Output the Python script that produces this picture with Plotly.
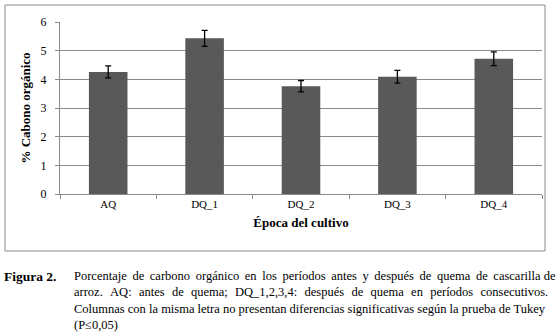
import plotly.graph_objects as go

categories = ["AQ", "DQ_1", "DQ_2", "DQ_3", "DQ_4"]
carbono = [4.26, 5.43, 3.76, 4.09, 4.72]
error = [0.21, 0.28, 0.20, 0.22, 0.24]
y_ticks = [0, 1, 2, 3, 4, 5, 6]

W, H = 559, 334
ML, MR, MT, MB = 60, 17, 22, 140
PW, PH = W - ML - MR, H - MT - MB

def px(x):
    return (x - ML) / PW

def py(y):
    return (H - MB - y) / PH

fig = go.Figure()
fig.add_trace(go.Bar(
    x=categories, y=carbono,
    marker=dict(color="#595959", line=dict(width=0)),
    error_y=dict(type="data", array=error, visible=True, color="black", thickness=1.3, width=3),
    width=0.4,
))

serif = "Liberation Serif"
fig.update_layout(
    width=W, height=H,
    margin=dict(l=ML, r=MR, t=MT, b=MB),
    paper_bgcolor="white", plot_bgcolor="white",
    showlegend=False,
    font=dict(family=serif, size=11, color="black"),
    xaxis=dict(
        type="category", showgrid=False, showline=True, linecolor="#8a8a8a", linewidth=1,
        ticks="outside", tickson="boundaries", ticklen=4, tickcolor="#8a8a8a",
        tickfont=dict(family=serif, size=11),
        title=dict(text="<b>Época del cultivo</b>", font=dict(family=serif, size=13), standoff=8),
    ),
    yaxis=dict(
        range=[0, 6], tickvals=y_ticks, showgrid=True, gridcolor="#8a8a8a", gridwidth=1,
        showline=True, linecolor="#8a8a8a", linewidth=1, zeroline=False,
        ticks="outside", ticklen=4, tickcolor="#8a8a8a", ticklabelstandoff=6,
        tickfont=dict(family=serif, size=12),
        title=dict(text="<b>% Cabono orgánico</b>", font=dict(family=serif, size=13), standoff=7),
    ),
)

fig.add_shape(type="rect", xref="paper", yref="paper",
              x0=px(5), x1=px(545), y0=py(251), y1=py(5),
              line=dict(color="#8a8a8a", width=1), fillcolor="rgba(0,0,0,0)", layer="below")

def justify(text, extra, n_extra=None):
    words = text.split(" ")
    gaps = len(words) - 1
    if n_extra is None:
        n_extra = gaps
    out = words[0]
    for i, w in enumerate(words[1:]):
        out += (" " + extra if i < n_extra else " ") + w
    return out

cap_font = dict(family=serif, size=12.5, color="black")
lines = [
    (72, 276, justify("Porcentaje de carbono orgánico en los períodos antes y después de quema de cascarilla de", "\u2009", 13)),
    (72, 292, justify("arroz. AQ: antes de quema; DQ_1,2,3,4: después de quema en períodos consecutivos.", "\u2004")),
    (72, 309, "Columnas con la misma letra no presentan diferencias significativas según la prueba de Tukey"),
    (72, 325, "(P≤0,05)"),
]
fig.add_annotation(text="<b>Figura 2.</b>", xref="paper", yref="paper", x=px(2), y=py(276),
                   xanchor="left", yanchor="middle", showarrow=False,
                   font=dict(family=serif, size=13.5, color="black"))
for x, y, t in lines:
    fig.add_annotation(text=t, xref="paper", yref="paper", x=px(x), y=py(y),
                       xanchor="left", yanchor="middle", showarrow=False, font=cap_font)

fig.write_html("out.html", config={"displayModeBar": False},
               post_script="document.body.style.margin='0px';")
